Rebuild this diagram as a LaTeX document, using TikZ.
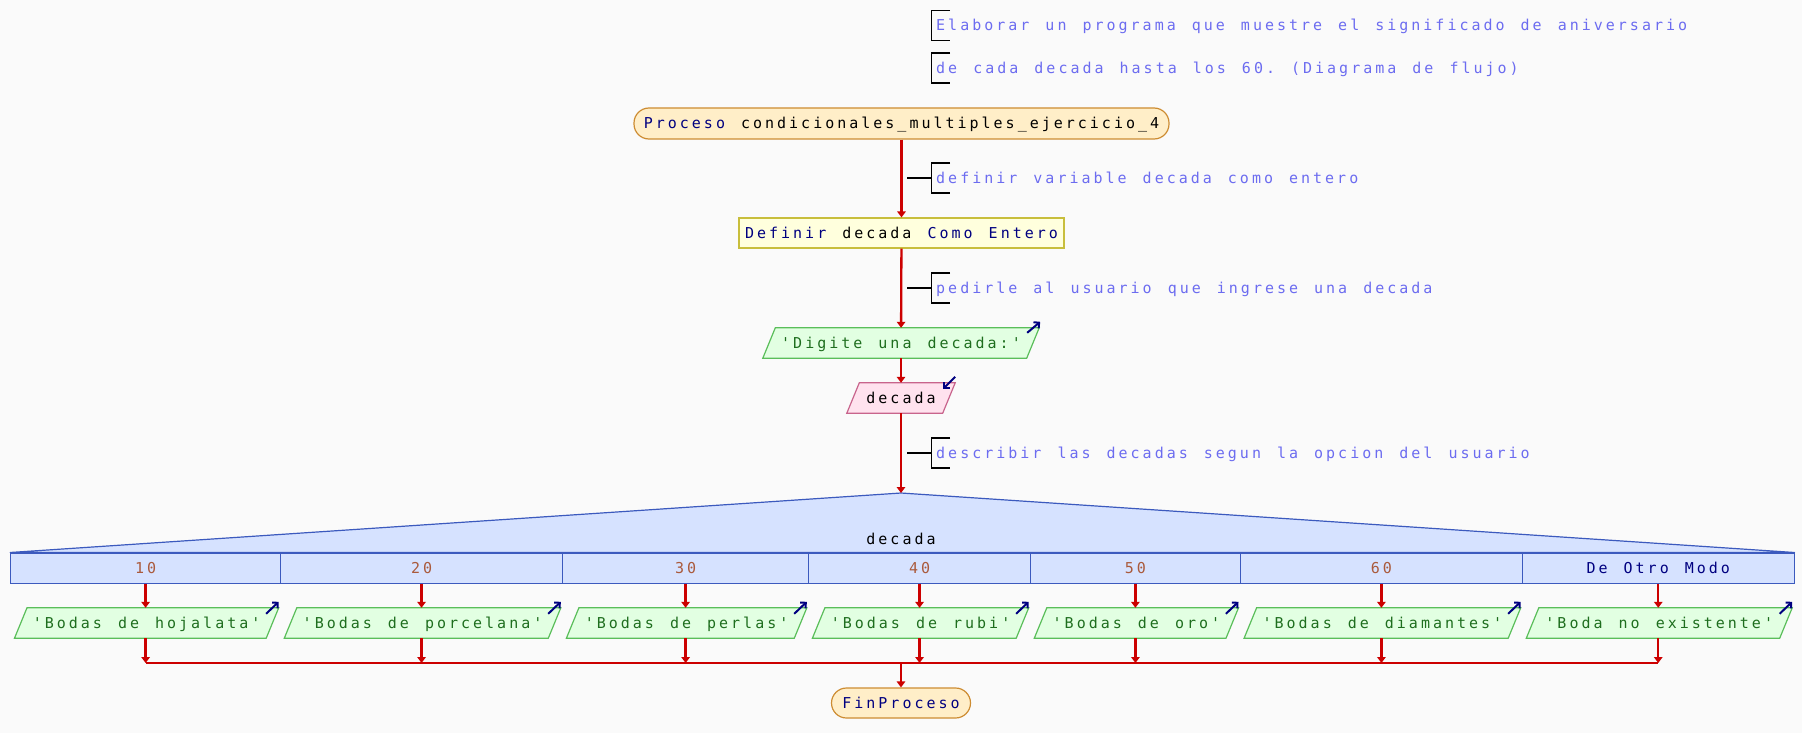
\documentclass[tikz,border=0pt]{standalone}
\usepackage{fontspec}
\setmonofont{DejaVu Sans Mono}[LetterSpace=20,WordSpace=1.333]
\usetikzlibrary{arrows.meta,calc,backgrounds}
\definecolor{bgc}{RGB}{250,250,250}
\definecolor{kwc}{RGB}{0,0,128}
\definecolor{cmc}{RGB}{108,108,240}
\definecolor{strc}{RGB}{30,110,30}
\definecolor{numc}{RGB}{170,90,60}
\definecolor{flowc}{RGB}{204,0,0}
\definecolor{termfill}{RGB}{255,238,200}
\definecolor{termdraw}{RGB}{205,140,50}
\definecolor{deffill}{RGB}{255,255,221}
\definecolor{defdraw}{RGB}{200,190,60}
\definecolor{outfill}{RGB}{226,255,226}
\definecolor{outdraw}{RGB}{90,190,90}
\definecolor{infill}{RGB}{255,226,238}
\definecolor{indraw}{RGB}{200,100,140}
\definecolor{swfill}{RGB}{214,226,255}
\definecolor{swdraw}{RGB}{60,90,190}
\newcommand\kw[1]{\textcolor{kwc}{#1}}
\newcommand\strg[1]{\textcolor{strc}{#1}}
\newcommand\numv[1]{\textcolor{numc}{#1}}
\newcommand\paraS[2]{\filldraw[#2] ([xshift=12.5pt]#1.north west) -- (#1.north east) -- ([xshift=-12.5pt]#1.south east) -- (#1.south west) -- cycle;}
\tikzset{
  every node/.style={font=\ttfamily\fontsize{15}{18}\selectfont, inner sep=0pt, text height=11pt, text depth=0pt},
  term/.style={draw=termdraw, fill=termfill, line width=1.2pt, rounded corners=15pt, minimum height=31pt},
  defbox/.style={draw=defdraw, fill=deffill, line width=1.2pt, minimum height=30pt},
  bare/.style={minimum height=30pt},
  outshape/.style={draw=outdraw, fill=outfill, line width=1.2pt},
  inshape/.style={draw=indraw, fill=infill, line width=1.2pt},
  cell/.style={draw=swdraw, fill=swfill, line width=1pt, minimum height=30pt},
  comment/.style={text=cmc, anchor=west},
  cbr/.style={draw=black, line width=1.3pt},
  flow/.style={draw=flowc, line width=2.3pt, -{Triangle[length=6pt,width=8.5pt]}},
  flowline/.style={draw=flowc, line width=2.3pt},
  icon/.style={draw=kwc, line width=2pt, -{Straight Barb[length=4pt,width=8pt]}},
}
\begin{document}
\begin{tikzpicture}[x=1pt,y=-1pt]
\useasboundingbox (0,0) rectangle (1802,733);
% comments at top
\node[comment] (cm1) at (936,25.5) {Elaborar un programa que muestre el significado de aniversario};
\node[comment] (cm2) at (936,68) {de cada decada hasta los 60. (Diagrama de flujo)};
% flow nodes
\node[term, minimum width=535pt] (inicio) at (901.5,123.5) {\kw{Proceso} condicionales\_multiples\_ejercicio\_4};
\node[comment] (cm3) at (936,178) {definir variable decada como entero};
\node[defbox, minimum width=325pt] (def) at (901.5,233) {\kw{Definir} decada \kw{Como Entero}};
\node[comment] (cm4) at (936,288) {pedirle al usuario que ingrese una decada};
\node[bare, minimum width=276pt] (out0) at (901,343) {\strg{'Digite una decada:'}};
\node[bare, minimum width=108pt] (in0) at (901,398) {decada};
\node[comment] (cm5) at (936,453) {describir las decadas segun la opcion del usuario};
\coordinate (apex) at (901,493);
\node (swlabel) at (901,539) {decada};
% case cells
\node[cell, minimum width=269.8pt] (c1) at (145.6,568) {\numv{10}};
\node[cell, minimum width=282.1pt] (c2) at (421.55,568) {\numv{20}};
\node[cell, minimum width=246pt] (c3) at (685.6,568) {\numv{30}};
\node[cell, minimum width=221.9pt] (c4) at (919.55,568) {\numv{40}};
\node[cell, minimum width=209.8pt] (c5) at (1135.4,568) {\numv{50}};
\node[cell, minimum width=282.2pt] (c6) at (1381.4,568) {\numv{60}};
\node[cell, minimum width=271.5pt] (c7) at (1658.25,568) {\kw{De Otro Modo}};
% outputs
\node[bare, minimum width=263.8pt] (o1) at (146.6,623) {\strg{'Bodas de hojalata'}};
\node[bare, minimum width=276.1pt] (o2) at (422.55,623) {\strg{'Bodas de porcelana'}};
\node[bare, minimum width=240pt] (o3) at (686.6,623) {\strg{'Bodas de perlas'}};
\node[bare, minimum width=215.9pt] (o4) at (920.55,623) {\strg{'Bodas de rubi'}};
\node[bare, minimum width=203.8pt] (o5) at (1136.4,623) {\strg{'Bodas de oro'}};
\node[bare, minimum width=276.2pt] (o6) at (1382.4,623) {\strg{'Bodas de diamantes'}};
\node[bare, minimum width=265.5pt] (o7) at (1659.25,623) {\strg{'Boda no existente'}};
\coordinate (m) at (901,663);
\node[term, minimum width=139pt, minimum height=30pt] (fin) at (901,703) {\kw{FinProceso}};
% background shapes
\begin{pgfonlayer}{background}
\fill[bgc] (0,0) rectangle (1802,733);
\filldraw[draw=swdraw, fill=swfill, line width=1.2pt, line join=round] (apex) -- (c7.north east) -- (c1.north west) -- cycle;
\paraS{out0}{outshape}
\paraS{in0}{inshape}
\foreach \i in {1,...,7} {\paraS{o\i}{outshape}}
\end{pgfonlayer}
% comment brackets
\foreach \c in {cm1,cm2,cm3,cm4,cm5} {
  \draw[cbr] ($(\c.west)+(14,-15)$) -- ++(-18.3,0) -- ++(0,30) -- ++(18.3,0);
}
\foreach \c in {cm3,cm4,cm5} {
  \draw[cbr] ($(\c.west)+(-4.3,0)$) -- ++(-25,0);
}
% flow connectors
\draw[flow] (inicio) -- (def);
\draw[flow] (def) -- (out0);
\draw[flow] (out0) -- (in0);
\draw[flow] (in0) -- (apex);
\foreach \i in {1,...,7} {
  \draw[flow] (c\i.south) -- (c\i.south |- o\i.north);
  \draw[flow] (c\i.south |- o\i.south) -- (c\i.south |- m);
  \draw[icon] ([xshift=-12.6pt,yshift=-6pt]o\i.north east) -- ([yshift=6pt]o\i.north east);
}
\draw[flowline] (c1.south |- m) -- (c7.south |- m);
\draw[flow] (m) -- (fin);
% io icons
\draw[icon] ([xshift=-12pt,yshift=-5pt]out0.north east) -- ([xshift=1pt,yshift=6pt]out0.north east);
\draw[icon] ([yshift=6pt]in0.north east) -- ([xshift=-12pt,yshift=-6pt]in0.north east);
\end{tikzpicture}
\end{document}
